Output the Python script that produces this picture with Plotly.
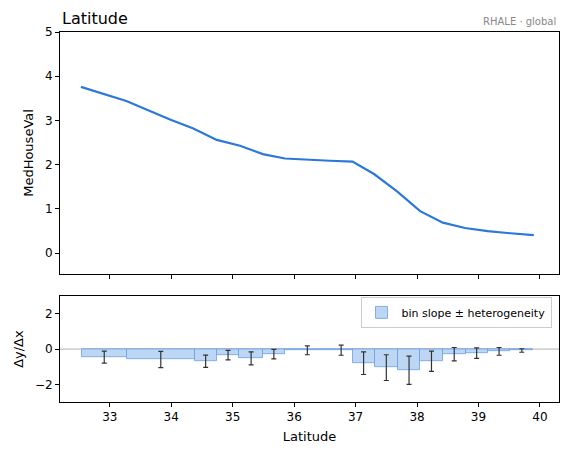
import plotly.graph_objects as go

# Accumulated effect curve
line_lat = [32.53, 33.27, 33.98, 34.36, 34.74, 35.12, 35.49, 35.85, 36.58, 36.95,
            37.30, 37.68, 38.05, 38.42, 38.78, 39.15, 39.52, 39.90]
line_val = [3.76, 3.44, 3.02, 2.82, 2.56, 2.43, 2.24, 2.14, 2.09, 2.07,
            1.79, 1.39, 0.95, 0.69, 0.57, 0.50, 0.45, 0.41]

# Bins
bin_edges = [32.54, 33.28, 34.38, 34.74, 35.11, 35.49, 35.85, 36.58, 36.95, 37.31,
             37.69, 38.05, 38.42, 38.79, 39.15, 39.52, 39.89]
bin_slope = [-0.46, -0.59, -0.69, -0.34, -0.53, -0.29, -0.07, -0.06, -0.80, -1.05,
             -1.20, -0.69, -0.29, -0.23, -0.13, -0.08]
bin_het = [0.34, 0.46, 0.35, 0.27, 0.37, 0.27, 0.25, 0.29, 0.64, 0.73,
           0.80, 0.57, 0.38, 0.30, 0.22, 0.10]

x_ticks = [33, 34, 35, 36, 37, 38, 39, 40]

centers = [(a + b) / 2 for a, b in zip(bin_edges[:-1], bin_edges[1:])]
widths = [b - a for a, b in zip(bin_edges[:-1], bin_edges[1:])]

FONT = "DejaVu Sans"
fig = go.Figure()

fig.add_trace(go.Scatter(
    x=line_lat, y=line_val, mode="lines",
    line=dict(color="#2b78d8", width=2.2),
    showlegend=False, xaxis="x", yaxis="y"))

fig.add_trace(go.Bar(
    x=centers, y=bin_slope, width=widths,
    marker=dict(color="rgba(160,196,240,0.7)", line=dict(color="rgba(110,160,225,0.8)", width=1)),
    error_y=dict(type="data", array=bin_het, color="#333333", thickness=1.2, width=2.5),
    name="bin slope ± heterogeneity", showlegend=True,
    xaxis="x2", yaxis="y2"))

axis_common = dict(showline=True, mirror=True, linecolor="black", linewidth=1,
                   ticks="outside", ticklen=4, tickcolor="black", showgrid=False,
                   zeroline=False, tickfont=dict(family=FONT, size=12, color="black"))

rng = [32.19, 40.31]
fig.update_layout(
    width=565, height=455,
    margin=dict(l=60, r=6, t=32, b=53),
    paper_bgcolor="white", plot_bgcolor="white",
    font=dict(family=FONT, color="black"),
    xaxis=dict(domain=[0, 1], range=rng, tickvals=x_ticks, showticklabels=False,
               anchor="y", **axis_common),
    yaxis=dict(domain=[0.346, 1], range=[-0.47, 5], tickvals=[0, 1, 2, 3, 4, 5],
               title=dict(text="MedHouseVal", font=dict(family=FONT, size=13), standoff=8),
               anchor="x", **axis_common),
    xaxis2=dict(domain=[0, 1], range=rng, tickvals=x_ticks, matches="x",
                title=dict(text="Latitude", font=dict(family=FONT, size=13), standoff=8),
                anchor="y2", **axis_common),
    yaxis2=dict(domain=[0, 0.286], range=[-3, 3], tickvals=[-2, 0, 2],
                ticktext=["\u22122", "0", "2"],
                title=dict(text="Δy/Δx", font=dict(family=FONT, size=13), standoff=8),
                anchor="x2", **axis_common),
    legend=dict(x=0.985, y=0.284, xanchor="right", yanchor="top",
                bgcolor="rgba(255,255,255,0.8)", bordercolor="#cccccc", borderwidth=1,
                font=dict(family=FONT, size=11, color="black"),
                itemwidth=30, tracegroupgap=0),
    shapes=[dict(type="line", xref="x2 domain", yref="y2", x0=0, x1=1, y0=0, y1=0,
                 line=dict(color="#b0b0b0", width=1), layer="below")],
    annotations=[
        dict(text="Latitude", xref="paper", yref="paper", x=0, y=1, xanchor="left",
             yanchor="bottom", yshift=2, showarrow=False,
             font=dict(family=FONT, size=16, color="black")),
        dict(text="RHALE · global", xref="paper", yref="paper", x=0.997, y=1, xanchor="right",
             yanchor="bottom", yshift=3, showarrow=False,
             font=dict(family=FONT, size=10, color="#888888")),
    ],
    bargap=0,
)

fig.write_html("out.html")
